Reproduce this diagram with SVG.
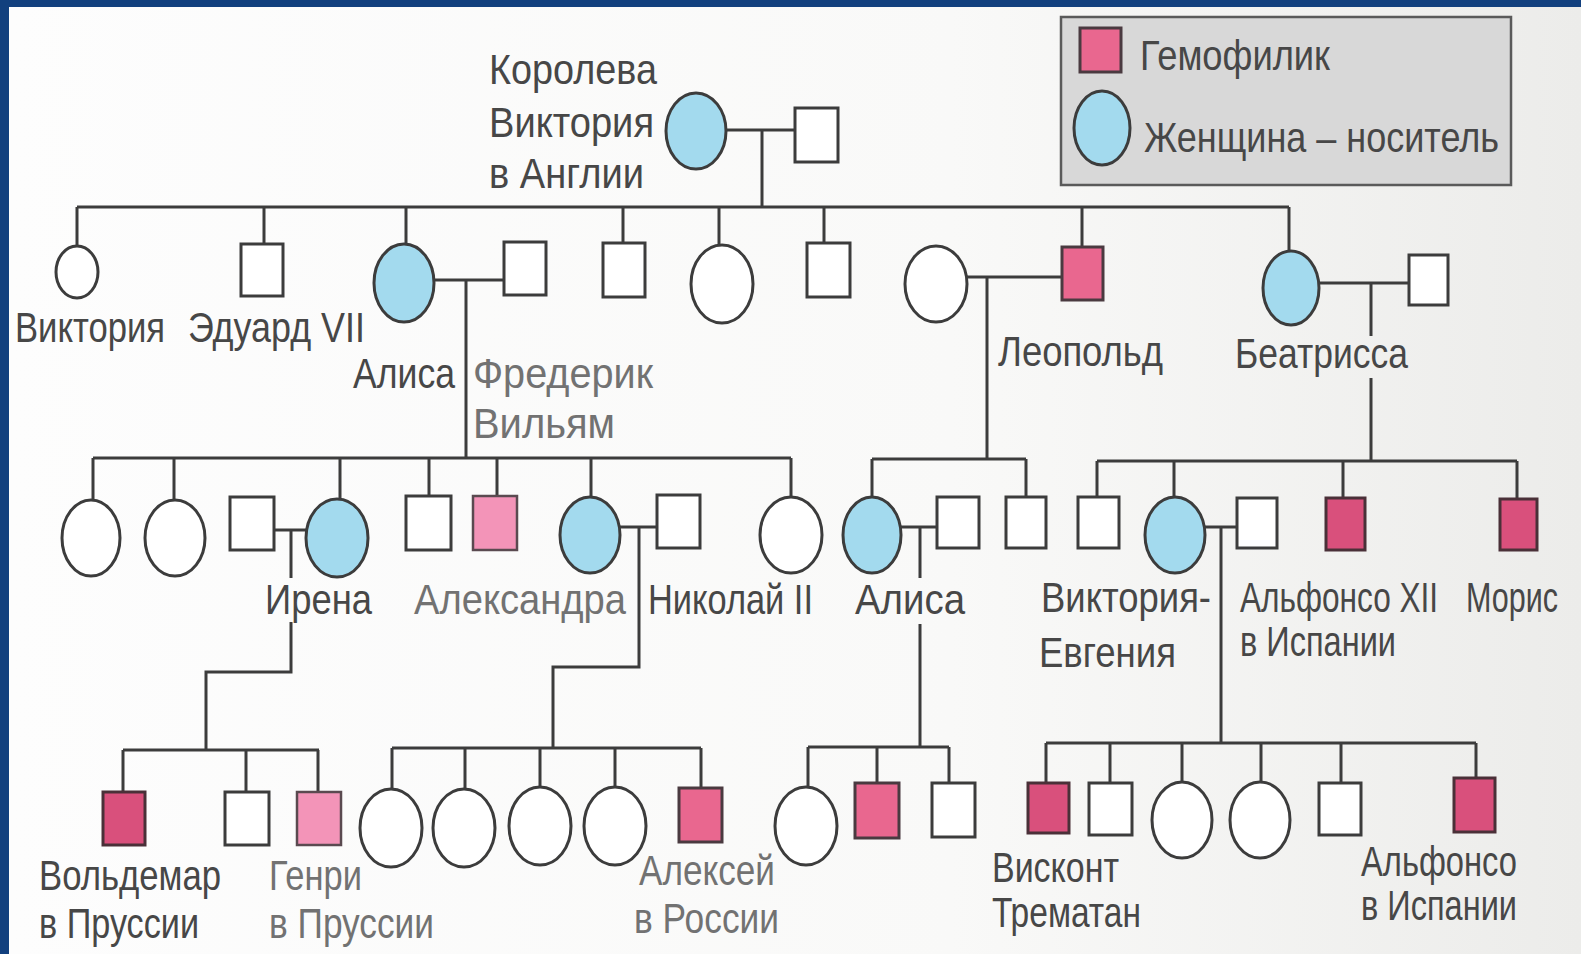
<svg xmlns="http://www.w3.org/2000/svg" width="1581" height="954" viewBox="0 0 1581 954">
<defs>
<linearGradient id="paper" x1="0" y1="0" x2="1" y2="0">
<stop offset="0" stop-color="#fdfdfd"/>
<stop offset="0.6" stop-color="#f9f9f8"/>
<stop offset="1" stop-color="#ececea"/>
</linearGradient>
<style>
.ln{fill:none;stroke:#3c3c3c;stroke-width:3}
.m{fill:#ffffff;stroke:#3c3c3c;stroke-width:3}
.f{fill:#ffffff;stroke:#3c3c3c;stroke-width:3}
.c{fill:#a3daee;stroke:#3c3c3c;stroke-width:3}
.h{fill:#e9678f;stroke:#4a3a40;stroke-width:3}
.hl{fill:#f394b8;stroke:#5a4a50;stroke-width:2.5}
.hd{fill:#d9507c;stroke:#4a3038;stroke-width:3}
text{font-family:"Liberation Sans",Arial,sans-serif;font-size:42px;fill:#474747}
.lt{fill:#727272}
</style>
</defs>
<rect x="0" y="0" width="1581" height="954" fill="#12407e"/>
<rect x="9" y="7" width="1572" height="947" fill="url(#paper)"/>

<g id="legend">
<rect x="1061" y="17" width="450" height="168" fill="#d8d8d8" stroke="#5a5a5a" stroke-width="2.5"/>
<rect x="1080" y="28" width="41" height="44" class="h"/>
<text x="1140" y="70" textLength="190" lengthAdjust="spacingAndGlyphs">Гемофилик</text>
<ellipse cx="1102" cy="128" rx="28" ry="37" class="c"/>
<text x="1144" y="152" textLength="355" lengthAdjust="spacingAndGlyphs">Женщина – носитель</text>
</g>

<g id="connectors">
<path class="ln" d="M726 130H795M762 130V207M77 207H1289M77 207V246M264 207V244M406 207V244M623 207V243M719 207V245M824 207V243M1082 207V247M1289 207V251"/>
<path class="ln" d="M434 280H504M466 280V458M967 277H1062M987 277V459M1319 283H1409M1371 283V336M1371 378V461"/>
<path class="ln" d="M93 458H791M93 458V500M174 458V500M340 458V499M429 458V496M497 458V496M591 458V497M791 458V497"/>
<path class="ln" d="M872 459H1026M872 459V497M1026 459V497M1097 461H1517M1097 461V497M1174 461V497M1343 461V498M1517 461V499"/>
<path class="ln" d="M274 530H306M291 530V578M291 622V672H206V750M123 750H319M123 750V792M246 750V792M318 750V792"/>
<path class="ln" d="M620 527H657M639 527V667H553V748M392 748H701M392 748V789M465 748V789M540 748V787M615 748V787M701 748V788"/>
<path class="ln" d="M901 527H937M920 527V578M920 624V747M808 747H949M808 747V787M877 747V783M949 747V783"/>
<path class="ln" d="M1205 527H1237M1221 527V743M1046 743H1476M1046 743V783M1110 743V783M1182 743V782M1261 743V782M1341 743V783M1476 743V778"/>
</g>

<g id="n-queen"><ellipse cx="696" cy="131" rx="30" ry="38" class="c"/>
<text x="489" y="84" textLength="168" lengthAdjust="spacingAndGlyphs">Королева</text>
<text x="489" y="137" textLength="165" lengthAdjust="spacingAndGlyphs">Виктория</text>
<text x="489" y="188" textLength="155" lengthAdjust="spacingAndGlyphs">в Англии</text></g>
<g id="n-albert"><rect x="795" y="108" width="43" height="54" class="m"/></g>

<g id="n-victoria"><ellipse cx="77" cy="272" rx="21" ry="26" class="f"/>
<text x="15" y="342" textLength="150" lengthAdjust="spacingAndGlyphs">Виктория</text></g>
<g id="n-edward"><rect x="241" y="244" width="42" height="52" class="m"/>
<text x="188" y="342" textLength="177" lengthAdjust="spacingAndGlyphs">Эдуард VII</text></g>
<g id="n-alice"><ellipse cx="404" cy="283" rx="30" ry="39" class="c"/>
<text x="353" y="388" textLength="102" lengthAdjust="spacingAndGlyphs">Алиса</text></g>
<g id="n-frederick"><rect x="504" y="242" width="42" height="53" class="m"/>
<text class="lt" x="473" y="388" textLength="180" lengthAdjust="spacingAndGlyphs">Фредерик</text>
<text class="lt" x="473" y="438" textLength="142" lengthAdjust="spacingAndGlyphs">Вильям</text></g>
<g id="n-son4"><rect x="603" y="243" width="42" height="54" class="m"/></g>
<g id="n-dau5"><ellipse cx="722" cy="284" rx="31" ry="39" class="f"/></g>
<g id="n-son6"><rect x="807" y="243" width="43" height="54" class="m"/></g>
<g id="n-leo-wife"><ellipse cx="936" cy="284" rx="31" ry="38" class="f"/></g>
<g id="n-leopold"><rect x="1062" y="247" width="41" height="53" class="h"/>
<text x="998" y="366" textLength="165" lengthAdjust="spacingAndGlyphs">Леопольд</text></g>
<g id="n-beatrice"><ellipse cx="1291" cy="288" rx="28" ry="37" class="c"/>
<text x="1235" y="368" textLength="173" lengthAdjust="spacingAndGlyphs">Беатрисса</text></g>
<g id="n-beatrice-husband"><rect x="1409" y="255" width="39" height="50" class="m"/></g>

<g id="n-g2-d1"><ellipse cx="91" cy="538" rx="29" ry="38" class="f"/></g>
<g id="n-g2-d2"><ellipse cx="175" cy="538" rx="30" ry="38" class="f"/></g>
<g id="n-irene-husband"><rect x="230" y="497" width="44" height="53" class="m"/></g>
<g id="n-irene"><ellipse cx="337" cy="538" rx="31" ry="39" class="c"/>
<text x="265" y="614" textLength="107" lengthAdjust="spacingAndGlyphs">Ирена</text></g>
<g id="n-g2-s1"><rect x="406" y="496" width="45" height="54" class="m"/></g>
<g id="n-g2-hemo"><rect x="473" y="496" width="44" height="54" class="hl"/></g>
<g id="n-alexandra"><ellipse cx="590" cy="535" rx="30" ry="38" class="c"/>
<text class="lt" x="414" y="614" textLength="212" lengthAdjust="spacingAndGlyphs">Александра</text></g>
<g id="n-nikolai"><rect x="657" y="495" width="43" height="53" class="m"/>
<text x="648" y="614" textLength="165" lengthAdjust="spacingAndGlyphs">Николай II</text></g>
<g id="n-g2-d3"><ellipse cx="791" cy="535" rx="31" ry="38" class="f"/></g>
<g id="n-alice2"><ellipse cx="872" cy="535" rx="29" ry="38" class="c"/>
<text x="855" y="614" textLength="110" lengthAdjust="spacingAndGlyphs">Алиса</text></g>
<g id="n-alice2-husband"><rect x="937" y="497" width="42" height="51" class="m"/></g>
<g id="n-leo-son"><rect x="1006" y="497" width="40" height="51" class="m"/></g>
<g id="n-b-s1"><rect x="1078" y="497" width="41" height="51" class="m"/></g>
<g id="n-victoria-eugenie"><ellipse cx="1175" cy="535" rx="30" ry="38" class="c"/>
<text x="1041" y="612" textLength="170" lengthAdjust="spacingAndGlyphs">Виктория-</text>
<text x="1039" y="667" textLength="137" lengthAdjust="spacingAndGlyphs">Евгения</text></g>
<g id="n-alfonso12"><rect x="1237" y="498" width="40" height="50" class="m"/>
<text transform="translate(1240 612) scale(0.765 1)" x="0" y="0" textLength="259" lengthAdjust="spacingAndGlyphs">Альфонсо XII</text>
<text x="1240" y="656" textLength="156" lengthAdjust="spacingAndGlyphs">в Испании</text></g>
<g id="n-b-hemo"><rect x="1326" y="498" width="39" height="52" class="hd"/></g>
<g id="n-morris"><rect x="1500" y="499" width="37" height="51" class="hd"/>
<text transform="translate(1466 612) scale(0.73 1)" x="0" y="0" textLength="126" lengthAdjust="spacingAndGlyphs">Морис</text></g>

<g id="n-valdemar"><rect x="103" y="792" width="42" height="53" class="hd"/>
<text x="39" y="890" textLength="182" lengthAdjust="spacingAndGlyphs">Вольдемар</text>
<text x="39" y="938" textLength="160" lengthAdjust="spacingAndGlyphs">в Пруссии</text></g>
<g id="n-i-son"><rect x="225" y="792" width="44" height="53" class="m"/></g>
<g id="n-henry"><rect x="297" y="792" width="44" height="53" class="hl"/>
<text class="lt" x="269" y="890" textLength="93" lengthAdjust="spacingAndGlyphs">Генри</text>
<text class="lt" x="269" y="938" textLength="165" lengthAdjust="spacingAndGlyphs">в Пруссии</text></g>
<g id="n-a-d1"><ellipse cx="391" cy="828" rx="31" ry="39" class="f"/></g>
<g id="n-a-d2"><ellipse cx="464" cy="828" rx="31" ry="39" class="f"/></g>
<g id="n-a-d3"><ellipse cx="540" cy="826" rx="31" ry="39" class="f"/></g>
<g id="n-a-d4"><ellipse cx="615" cy="826" rx="31" ry="39" class="f"/></g>
<g id="n-alexei"><rect x="679" y="788" width="43" height="54" class="h"/>
<text class="lt" x="639" y="885" textLength="136" lengthAdjust="spacingAndGlyphs">Алексей</text>
<text class="lt" x="634" y="933" textLength="145" lengthAdjust="spacingAndGlyphs">в России</text></g>
<g id="n-l-d"><ellipse cx="806" cy="826" rx="31" ry="39" class="f"/></g>
<g id="n-l-hemo"><rect x="855" y="783" width="44" height="55" class="h"/></g>
<g id="n-l-son"><rect x="932" y="783" width="43" height="54" class="m"/></g>
<g id="n-viscount"><rect x="1028" y="783" width="41" height="50" class="hd"/>
<text x="992" y="882" textLength="127" lengthAdjust="spacingAndGlyphs">Висконт</text>
<text x="992" y="927" textLength="149" lengthAdjust="spacingAndGlyphs">Трематан</text></g>
<g id="n-v-s2"><rect x="1089" y="783" width="43" height="52" class="m"/></g>
<g id="n-v-d1"><ellipse cx="1182" cy="820" rx="30" ry="38" class="f"/></g>
<g id="n-v-d2"><ellipse cx="1260" cy="820" rx="30" ry="38" class="f"/></g>
<g id="n-v-s3"><rect x="1319" y="783" width="42" height="52" class="m"/></g>
<g id="n-alfonso"><rect x="1454" y="778" width="41" height="54" class="hd"/>
<text x="1361" y="876" textLength="156" lengthAdjust="spacingAndGlyphs">Альфонсо</text>
<text x="1361" y="920" textLength="156" lengthAdjust="spacingAndGlyphs">в Испании</text></g>
</svg>
